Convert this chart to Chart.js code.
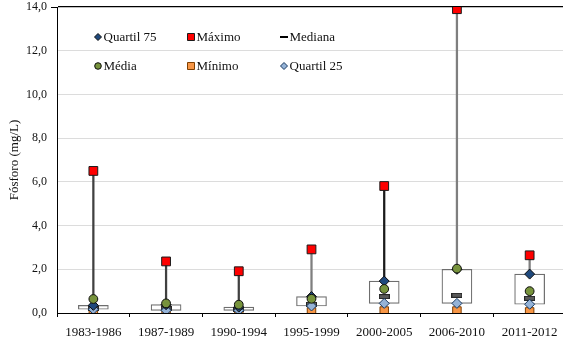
<!DOCTYPE html>
<html lang="pt">
<head>
<meta charset="UTF-8">
<title>Fósforo por período</title>
<script src="https://cdn.jsdelivr.net/npm/chart.js"></script>
<style>
  body { margin: 0; overflow: hidden; background: #fff; }
  #fosforoChart { position: absolute; left: 0; top: 0; }
</style>
</head>
<body>
<canvas id="fosforoChart" width="567" height="339"></canvas>
<script>
// valores (mg/L)
const periodos = ['1983-1986', '1987-1989', '1990-1994', '1995-1999', '2000-2005', '2006-2010', '2011-2012'];
const quartil75 = [0.35, 0.38, 0.27, 0.75, 1.46, 2.00, 1.78];
const maximo    = [6.50, 2.36, 1.91, 2.91, 5.81, 13.90, 2.64];
const mediana   = [0.20, 0.20, 0.18, 0.40, 0.75, 0.81, 0.67];
const media     = [0.64, 0.44, 0.38, 0.65, 1.10, 2.03, 1.00];
const minimo    = [0.00, 0.00, 0.00, 0.05, 0.09, 0.09, 0.05];
const quartil25 = [0.17, 0.12, 0.12, 0.32, 0.44, 0.44, 0.40];
const yTicks    = [0, 2, 4, 6, 8, 10, 12, 14];

const FONT = "'Liberation Serif', 'Times New Roman', serif";
const whiskerColors = ['#404040', '#404040', '#404040', '#7f7f7f', '#1a1a1a', '#7f7f7f', '#7f7f7f'];

// marcador da mediana: pequeno retângulo cinzento
function medianMarker() {
    const c = document.createElement('canvas');
    c.width = 11; c.height = 5;
    const g = c.getContext('2d');
    g.fillStyle = '#262626'; g.fillRect(0, 0, 11, 5);
    g.fillStyle = '#595959'; g.fillRect(1, 1, 9, 3);
    return c;
}

function pointSeries(label, data, style, order) {
    return Object.assign({
        type: 'line', label: label, data: data, showLine: false,
        borderWidth: 1, order: order
    }, style);
}

function whisker(label, low, high) {
    return {
        label: label,
        data: periodos.map((p, i) => [low[i], high[i]]),
        backgroundColor: whiskerColors,
        barThickness: 1.6,
        grouped: false,
        order: 20
    };
}

const styles = {
    q75: { pointStyle: 'rectRot', pointRadius: 5, backgroundColor: '#1f497d', borderColor: '#0d0d0d' },
    max: { pointStyle: 'rect', pointRadius: 6.2, backgroundColor: '#ff0000', borderColor: '#1a1a1a' },
    med: { pointStyle: medianMarker(), pointRadius: 5 },
    mean: { pointStyle: 'circle', pointRadius: 4.4, backgroundColor: '#77933c', borderColor: '#0d0d0d' },
    min: { pointStyle: 'rect', pointRadius: 6, backgroundColor: '#f79646', borderColor: '#7f3f00' },
    q25: { pointStyle: 'rectRot', pointRadius: 5, backgroundColor: '#95b3d7', borderColor: '#17375e' }
};

// legenda em grelha 3x2 dentro da área do gráfico
const legendGrid = [
    { text: 'Quartil 75', key: 'q75', col: 0, row: 0 },
    { text: 'Máximo', key: 'max', col: 1, row: 0 },
    { text: 'Mediana', key: 'med', col: 2, row: 0 },
    { text: 'Média', key: 'mean', col: 0, row: 1 },
    { text: 'Mínimo', key: 'min', col: 1, row: 1 },
    { text: 'Quartil 25', key: 'q25', col: 2, row: 1 }
];

const gridLegend = {
    id: 'gridLegend',
    afterDraw(chart) {
        const ctx = chart.ctx;
        const a = chart.chartArea;
        const colX = [a.left + 41, a.left + 134, a.left + 227];
        const rowY = [a.top + 30, a.top + 59];
        ctx.save();
        // a linha do topo prolonga-se para a esquerda do eixo
        ctx.strokeStyle = '#000';
        ctx.lineWidth = 1;
        ctx.beginPath();
        ctx.moveTo(a.left - 6, Math.round(a.top) + 0.5);
        ctx.lineTo(a.left, Math.round(a.top) + 0.5);
        ctx.stroke();

        legendGrid.forEach(item => {
            const x = colX[item.col], y = rowY[item.row];
            const s = styles[item.key];
            ctx.lineWidth = 1;
            ctx.fillStyle = s.backgroundColor;
            ctx.strokeStyle = s.borderColor;
            ctx.beginPath();
            if (item.key === 'med') {
                ctx.fillStyle = '#000';
                ctx.fillRect(x - 4, y - 1, 8, 2);
            } else if (s.pointStyle === 'rectRot') {
                ctx.moveTo(x, y - 3.5); ctx.lineTo(x + 3.5, y);
                ctx.lineTo(x, y + 3.5); ctx.lineTo(x - 3.5, y);
                ctx.closePath(); ctx.fill(); ctx.stroke();
            } else if (s.pointStyle === 'rect') {
                ctx.rect(x - 3.5, y - 3.5, 7, 7);
                ctx.fill(); ctx.stroke();
            } else {
                ctx.arc(x, y, 3.3, 0, Math.PI * 2);
                ctx.fill(); ctx.stroke();
            }
            ctx.fillStyle = '#111';
            ctx.font = '13px ' + FONT;
            ctx.textBaseline = 'middle';
            ctx.textAlign = 'left';
            ctx.fillText(item.text, x + 5.5, y + 1);
        });
        ctx.restore();
    }
};

const ctx = document.getElementById('fosforoChart').getContext('2d');
new Chart(ctx, {
    type: 'bar',
    data: {
        labels: periodos,
        datasets: [
            whisker('Amplitude superior', quartil75, maximo),
            whisker('Amplitude inferior', minimo, quartil25),
            {
                label: 'Caixa',
                data: periodos.map((p, i) => [quartil25[i], quartil75[i]]),
                backgroundColor: '#ffffff',
                borderColor: '#6e6e6e',
                borderWidth: 1.2,
                borderSkipped: false,
                barThickness: 30,
                grouped: false,
                order: 19
            },
            pointSeries('Mínimo', minimo, styles.min, 18),
            pointSeries('Mediana', mediana, styles.med, 17),
            pointSeries('Quartil 25', quartil25, styles.q25, 16),
            pointSeries('Quartil 75', quartil75, styles.q75, 15),
            pointSeries('Média', media, styles.mean, 14),
            pointSeries('Máximo', maximo, styles.max, 13)
        ]
    },
    options: {
        responsive: false,
        animation: false,
        layout: { autoPadding: false, padding: { left: 0, right: 1, top: 7, bottom: 0 } },
        plugins: {
            legend: { display: false },
            tooltip: { enabled: false }
        },
        scales: {
            x: {
                afterFit: s => { s.height = 26; },
                grid: {
                    drawOnChartArea: false,
                    drawTicks: true,
                    tickLength: 4,
                    color: '#000',
                    offset: true
                },
                border: { color: '#000', width: 1 },
                ticks: {
                    color: '#111',
                    padding: 8,
                    font: { family: FONT, size: 13 },
                    maxRotation: 0
                }
            },
            y: {
                min: 0,
                max: 14,
                afterFit: s => { s.width = 57; s.paddingTop = 0; s.paddingBottom = 0; },
                afterBuildTicks: s => { s.ticks = yTicks.map(v => ({ value: v })); },
                grid: {
                    drawTicks: false,
                    color: c => (c.tick && c.tick.value === 14 ? '#000' : '#dcdcdc'),
                    lineWidth: c => (c.tick && c.tick.value === 14 ? 1.2 : 1)
                },
                border: { color: '#000', width: 1 },
                ticks: {
                    color: '#111',
                    padding: 10,
                    font: { family: FONT, size: 12 },
                    callback: v => v.toFixed(1).replace('.', ',')
                },
                title: {
                    display: true,
                    text: 'Fósforo (mg/L)',
                    color: '#111',
                    font: { family: FONT, size: 13 },
                    padding: { top: 7, bottom: 0 }
                }
            }
        }
    },
    plugins: [gridLegend]
});
</script>
</body>
</html>
